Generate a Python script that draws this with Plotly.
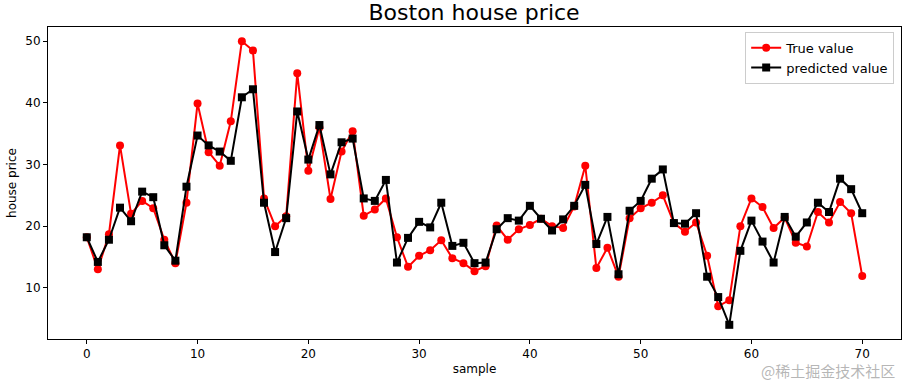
import plotly.graph_objects as go

samples = list(range(71))
true_value = [18.2, 13.0, 18.7, 33.1, 22.0, 24.1, 22.9, 17.8, 14.0, 23.8,
              39.9, 32.0, 29.8, 37.0, 50.0, 48.5, 24.5, 20.0, 21.6, 44.8,
              29.0, 36.0, 24.4, 32.1, 35.4, 21.7, 22.7, 24.5, 18.2, 13.4,
              15.2, 16.1, 17.7, 14.8, 14.0, 12.7, 13.5, 20.1, 17.8, 19.5,
              20.2, 21.2, 20.0, 19.7, 23.2, 29.8, 13.2, 16.5, 11.8, 21.3,
              22.9, 23.8, 25.0, 20.5, 19.1, 20.6, 15.2, 7.0, 8.0, 20.0,
              24.5, 23.1, 19.7, 21.4, 17.3, 16.7, 22.3, 20.6, 23.9, 22.1,
              11.9]
predicted_value = [18.2, 14.2, 17.8, 23.0, 20.8, 25.6, 24.7, 16.9, 14.4, 26.4,
                   34.7, 33.1, 32.1, 30.6, 40.9, 42.2, 23.8, 15.8, 21.3, 38.6,
                   30.8, 36.4, 28.4, 33.6, 34.2, 24.5, 24.1, 27.5, 14.1, 18.1,
                   20.7, 19.8, 23.8, 16.8, 17.3, 14.0, 14.1, 19.5, 21.3, 20.9,
                   23.3, 21.2, 19.3, 21.1, 23.3, 26.7, 17.1, 21.5, 12.2, 22.5,
                   24.1, 27.7, 29.2, 20.5, 20.4, 22.1, 11.8, 8.5, 4.0, 16.0,
                   20.9, 17.5, 14.1, 21.5, 18.3, 20.6, 23.8, 22.3, 27.7, 26.0,
                   22.1]
x_ticks = [0, 10, 20, 30, 40, 50, 60, 70]
y_ticks = [10, 20, 30, 40, 50]

fig = go.Figure()
fig.add_trace(go.Scatter(x=samples, y=true_value, mode="lines+markers", name="True value",
                         line=dict(color="red", width=2),
                         marker=dict(symbol="circle", size=8, color="red")))
fig.add_trace(go.Scatter(x=samples, y=predicted_value, mode="lines+markers", name="predicted value",
                         line=dict(color="black", width=2),
                         marker=dict(symbol="square", size=8, color="black")))

axis_common = dict(showline=True, mirror=True, linecolor="black", linewidth=1,
                   ticks="outside", ticklen=4, tickcolor="black", showgrid=False,
                   zeroline=False, tickfont=dict(size=12, color="black"))
fig.update_xaxes(range=[-3.5, 73.5], tickvals=x_ticks,
                 title=dict(text="sample", font=dict(size=12, color="black"), standoff=4),
                 **axis_common)
fig.update_yaxes(range=[1.7, 52.3], tickvals=y_ticks,
                 title=dict(text="house price", font=dict(size=12, color="black"), standoff=6),
                 **axis_common)

fig.add_annotation(text="@稀土掘金技术社区", xref="paper", yref="paper", x=0.995, y=-0.10,
                   xanchor="right", yanchor="middle", showarrow=False,
                   font=dict(family="Noto Sans CJK SC", size=15, color="rgba(150,150,150,0.7)"))

fig.update_layout(
    width=903, height=382,
    margin=dict(l=48, r=2, t=27, b=43, autoexpand=False),
    paper_bgcolor="white", plot_bgcolor="white",
    font=dict(family="DejaVu Sans", color="black"),
    title=dict(text="Boston house price", x=0.525, xanchor="center", y=0.968, yanchor="middle",
               font=dict(size=22, color="black")),
    legend=dict(x=0.992, y=0.985, xanchor="right", yanchor="top",
                bordercolor="#cccccc", borderwidth=1, bgcolor="rgba(255,255,255,0.8)",
                font=dict(size=13)),
    showlegend=True,
)

fig.write_html("out.html", config={"displayModeBar": False},
               post_script="document.body.style.margin='0';document.body.style.overflow='hidden';")
